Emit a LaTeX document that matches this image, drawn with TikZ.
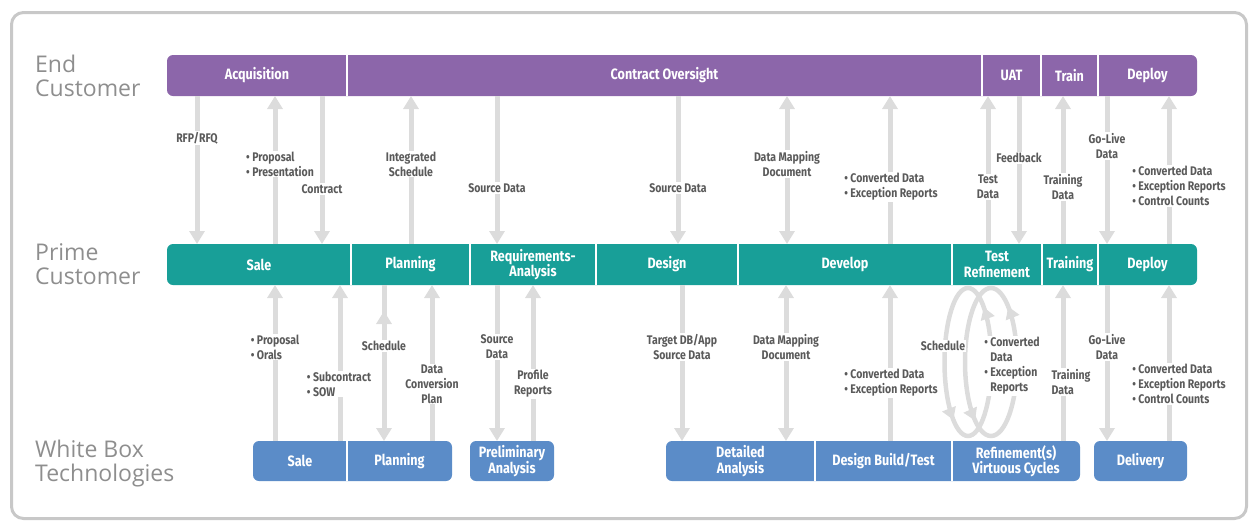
\documentclass[tikz,border=0pt]{standalone}
\usepackage{fontspec}
\usetikzlibrary{arrows.meta,decorations.markings}
\newfontfamily\osc{Fira Sans}[FakeStretch=0.84]
\newfontfamily\osr{Open Sans}
\definecolor{purp}{HTML}{8C66AA}
\definecolor{tealc}{HTML}{189F98}
\definecolor{bluec}{HTML}{5B8CC8}
\definecolor{agray}{HTML}{DCDCDC}
\definecolor{lgray}{HTML}{5A5A5A}
\definecolor{sgray}{HTML}{8E8E8E}
\definecolor{fgray}{HTML}{C8C8C8}
\begin{document}
\begin{tikzpicture}[x=1pt,y=-1pt,
 seg/.style={inner sep=0pt,outer sep=0pt,text=white,font=\osc\bfseries\fontsize{15}{15.5}\selectfont,align=center},
 lab/.style={fill=white,inner sep=1pt,text=lgray,font=\osc\bfseries\fontsize{12.5}{15}\selectfont,align=center},
 labl/.style={lab,align=left},
 side/.style={anchor=base west,text=sgray,font=\osr\fontsize{23}{23.5}\selectfont,align=left,inner sep=0pt},
 arr/.style={draw=agray,line width=5pt,-{Triangle[width=15pt,length=13pt]}},
 darr/.style={draw=agray,line width=5pt,{Triangle[width=15pt,length=13pt]}-{Triangle[width=15pt,length=13pt]}},
 sepl/.style={draw=white,line width=1.5pt},
 loopc/.style={draw=agray,line width=4.5pt,postaction={decorate},
   decoration={markings,
     mark=at position 0.17 with {\arrow{Triangle[width=14pt,length=12pt]}},
     mark=at position 0.68 with {\arrow{Triangle[width=14pt,length=12pt]}}}},
]
\useasboundingbox (0,0) rectangle (1251,523);
\draw[fgray,line width=3pt,rounded corners=12pt] (11.5,12.5) rectangle (1246.5,518.5);

% side labels
\node[side] (ec) at (35,96) {End\\Customer};
\node[side] (pc) at (35,284) {Prime\\Customer};
\node[side] (wb) at (35,481) {White Box\\Technologies};

% row backgrounds
\fill[purp,rounded corners=6pt] (167,55) rectangle (1197,96);
\fill[tealc,rounded corners=6pt] (167,244) rectangle (1197,285);
\fill[bluec,rounded corners=6pt] (253,441) rectangle (452,481);
\fill[bluec,rounded corners=6pt] (470,441) rectangle (554,481);
\fill[bluec,rounded corners=6pt] (666,441) rectangle (1080,481);
\fill[bluec,rounded corners=6pt] (1094,441) rectangle (1187,481);

% top row
\node[seg,minimum width=180pt,minimum height=41pt] (acq) at (257,75.5) {Acquisition};
\node[seg,minimum width=635pt,minimum height=41pt] (cov) at (664.5,75.5) {Contract Oversight};
\node[seg,minimum width=59pt,minimum height=41pt] (uat) at (1011.5,75.5) {UAT};
\node[seg,minimum width=57pt,minimum height=41pt] (trn) at (1069.5,75.5) {Train};
\node[seg,minimum width=99pt,minimum height=41pt] (dep) at (1147.5,75.5) {Deploy};
% middle row
\node[seg,minimum width=184pt,minimum height=41pt] (psale) at (259,264.5) {Sale};
\node[seg,minimum width=119pt,minimum height=41pt] (pplan) at (410.5,264.5) {Planning};
\node[seg,minimum width=126pt,minimum height=41pt] (preq) at (533,264.5) {Requirements-\\Analysis};
\node[seg,minimum width=142pt,minimum height=41pt] (pdes) at (667,264.5) {Design};
\node[seg,minimum width=214pt,minimum height=41pt] (pdev) at (845,264.5) {Develop};
\node[seg,minimum width=90pt,minimum height=41pt] (ptest) at (997,264.5) {Test\\Refinement};
\node[seg,minimum width=56pt,minimum height=41pt] (ptrain) at (1070,264.5) {Training};
\node[seg,minimum width=99pt,minimum height=41pt] (pdep) at (1147.5,264.5) {Deploy};
% bottom row
\node[seg,minimum width=94pt,minimum height=40pt] (wsale) at (300,461) {Sale};
\node[seg,minimum width=105pt,minimum height=40pt] (wplan) at (399.5,461) {Planning};
\node[seg,minimum width=84pt,minimum height=40pt] (wpre) at (512,461) {Preliminary\\Analysis};
\node[seg,minimum width=149pt,minimum height=40pt] (wdet) at (740.5,461) {Detailed\\Analysis};
\node[seg,minimum width=137pt,minimum height=40pt] (wdbt) at (883.5,461) {Design Build/Test};
\node[seg,minimum width=128pt,minimum height=40pt] (wref) at (1016,461) {Refinement(s)\\Virtuous Cycles};
\node[seg,minimum width=93pt,minimum height=40pt] (wdel) at (1140.5,461) {Delivery};

% separators
\foreach \n in {acq,cov,uat,trn,psale,pplan,preq,pdes,pdev,ptest,ptrain,wsale,wdet,wdbt}
  \draw[sepl] (\n.north east) -- (\n.south east);

% arrows top
\draw[arr] (acq.south -| 197,0) -- (psale.north -| 197,0);
\draw[arr] (psale.north -| 275,0) -- (acq.south -| 275,0);
\draw[arr] (acq.south -| 322,0) -- (psale.north -| 322,0);
\draw[arr] (pplan.north -| 411,0) -- (cov.south -| 411,0);
\draw[arr] (cov.south -| 497,0) -- (preq.north -| 497,0);
\draw[arr] (cov.south -| 678,0) -- (pdes.north -| 678,0);
\draw[darr] (cov.south -| 787,0) -- (pdev.north -| 787,0);
\draw[arr] (pdev.north -| 890,0) -- (cov.south -| 890,0);
\draw[arr] (ptest.north -| 988,0) -- (uat.south -| 988,0);
\draw[arr] (uat.south -| 1019,0) -- (ptest.north -| 1019,0);
\draw[arr] (ptrain.north -| 1063,0) -- (trn.south -| 1063,0);
\draw[arr] (dep.south -| 1107,0) -- (pdep.north -| 1107,0);
\draw[arr] (pdep.north -| 1169,0) -- (dep.south -| 1169,0);

% arrows bottom
\draw[arr] (wsale.north -| 275,0) -- (psale.south -| 275,0);
\draw[arr] (wsale.north -| 340,0) -- (psale.south -| 340,0);
\draw[arr] (pplan.south -| 384,0) -- (wplan.north -| 384,0);
\coordinate (schA) at (384,336);
\coordinate (schB) at (384,311);
\draw[arr] (schA) -- (schB);
\draw[arr] (wplan.north -| 432,0) -- (pplan.south -| 432,0);
\draw[arr] (preq.south -| 497,0) -- (wpre.north -| 497,0);
\draw[arr] (wpre.north -| 533,0) -- (preq.south -| 533,0);
\draw[arr] (pdes.south -| 682,0) -- (wdet.north -| 682,0);
\draw[darr] (pdev.south -| 786,0) -- (wdet.north -| 786,0);
\draw[arr] (wdbt.north -| 890,0) -- (pdev.south -| 890,0);
\draw[arr] (wref.north -| 1063,0) -- (ptrain.south -| 1063,0);
\draw[arr] (pdep.south -| 1107,0) -- (wdel.north -| 1107,0);
\draw[arr] (wdel.north -| 1169,0) -- (pdep.south -| 1169,0);

% loops
\draw[loopc] (991.5,362) arc[start angle=0,end angle=-360,x radius=23.5,y radius=74];
\draw[loopc] (1017,362) arc[start angle=0,end angle=-360,x radius=26,y radius=74];

% labels top
\node[lab] at (197,138) {RFP/RFQ};
\node[labl] at (280,164) {• Proposal\\• Presentation};
\node[lab] at (322,189) {Contract};
\node[lab] at (411,164) {Integrated\\Schedule};
\node[lab] at (497,188) {Source Data};
\node[lab] at (678,188) {Source Data};
\node[lab] at (787,164) {Data Mapping\\Document};
\node[labl] at (891,187) {• Converted Data\\• Exception Reports};
\node[lab] at (988,187) {Test\\Data};
\node[lab] at (1019,158) {Feedback};
\node[lab] at (1063,187) {Training\\Data};
\node[lab] at (1107,146) {Go-Live\\Data};
\node[labl] at (1179,186) {• Converted Data\\• Exception Reports\\• Control Counts};

% labels bottom
\node[labl] at (275,347) {• Proposal\\• Orals};
\node[labl] at (339,384) {• Subcontract\\• SOW};
\node[lab] at (384,346) {Schedule};
\node[lab] at (432,384) {Data\\Conversion\\Plan};
\node[lab] at (497,347) {Source\\Data};
\node[lab] at (533,384) {Profile\\Reports};
\node[lab] at (682,347) {Target DB/App\\Source Data};
\node[lab] at (786,347) {Data Mapping\\Document};
\node[labl] at (891,383) {• Converted Data\\• Exception Reports};
\node[lab] at (943,346) {Schedule};
\node[labl] at (1012,366) {• Converted\\\phantom{• }Data\\• Exception\\\phantom{• }Reports};
\node[labl] at (1071,382) {Training\\Data};
\node[lab] at (1107,347) {Go-Live\\Data};
\node[labl] at (1179,384) {• Converted Data\\• Exception Reports\\• Control Counts};
\end{tikzpicture}
\end{document}
